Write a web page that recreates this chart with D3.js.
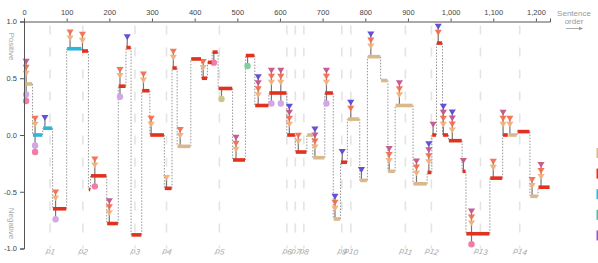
<!DOCTYPE html>
<html>
<head>
<meta charset="utf-8">
<script src="https://cdn.jsdelivr.net/npm/d3@7"></script>
<style>
body { margin: 0; background: #fff; }
svg { display: block; font-family: "Liberation Sans", Arial, sans-serif; }
</style>
</head>
<body>
<svg id="chart" width="598" height="263"></svg>
<script>
// segments: start sentence, sentiment value, type (end = next start)
var segStart = [0, 20, 44, 67, 100, 135, 151, 156, 194, 221, 239, 251, 276, 295, 329, 347, 359, 391, 416, 430,
    441, 455, 489, 519, 541, 574, 616, 636, 663, 677, 705, 725, 742, 758, 787, 805, 836, 853, 870, 912,
    945, 956, 967, 981, 995, 1027, 1036, 1092, 1122, 1135, 1156, 1186, 1205];
var lastSentence = 1233;
var segValue = [0.45, 0.0, 0.06, -0.65, 0.76, 0.74, -0.48, -0.36, -0.78, 0.43, 0.77, -0.88, 0.39, 0.0, -0.47, 0.59, -0.10, 0.67, 0.50, 0.64,
    0.73, 0.41, -0.22, 0.70, 0.26, 0.37, 0.0, -0.15, 0.0, -0.20, 0.37, -0.74, -0.24, 0.14, -0.40, 0.69, 0.48, -0.32, 0.26, -0.43,
    -0.33, 0.0, 0.81, 0.0, -0.05, -0.32, -0.87, -0.38, 0.0, 0.0, 0.03, -0.54, -0.46];
var segType = ["t", "c", "c", "r", "c", "r", "r", "r", "r", "r", "r", "r", "r", "r", "r", "r", "t", "r", "r", "r",
    "r", "r", "r", "r", "r", "r", "r", "r", "t", "t", "r", "t", "r", "t", "t", "t", "t", "t", "t", "t",
    "r", "r", "r", "r", "r", "r", "r", "r", "r", "t", "r", "t", "r"];

// events: sentence, triangles (stacked up), dots (stacked down)
var eventAt = [5, 26, 49, 74, 108, 137, 166, 200, 225, 242, 280, 298, 334, 350, 366, 420, 445, 463, 497, 524,
    549, 580, 602, 622, 643, 682, 709, 729, 746, 766, 791, 813, 856, 880, 920, 949, 959, 971, 983, 1004,
    1030, 1049, 1100, 1123, 1139, 1191, 1212];
var eventTri = ["tom", "to", "b", "to", "to", "to", "to", "tom", "to", "b", "to", "to", "t", "to", "to", "to", "", "", "tom", "",
    "tomb", "tom", "tom", "tomb", "to", "tomb", "tom", "tob", "b", "ob", "b", "tob", "tom", "tom", "tom", "tomb", "m", "ob", "tomb", "tomb",
    "m", "tom", "to", "tom", "to", "to", "tom"];
var eventDot = ["lp", "lp", "", "l", "", "", "p", "", "l", "", "", "", "", "", "", "", "p", "v", "", "g",
    "", "l", "l", "", "", "", "l", "", "", "", "", "", "", "", "", "", "", "", "", "",
    "", "p", "", "", "", "", ""];

var paraAt = [61, 138, 260, 334, 458, 616, 636, 656, 745, 766, 894, 955, 1070, 1162];
var paraLabel = ["p1", "p2", "p3", "p4", "p5", "p6", "p7", "p8", "p9", "p10", "p11", "p12", "p13", "p14"];

var xTicks = [0, 100, 200, 300, 400, 500, 600, 700, 800, 900, 1000, 1100, 1200];
var yTicks = [-1, -0.5, 0, 0.5, 1];

var legendKeys = ["t", "r", "c", "g", "u"];

var segColor = {t: "#d9b98b", r: "#e2321f", c: "#2db6da", g: "#55b9a0", u: "#8c5cc4"};
var triColor = {t: "#f1b27f", o: "#f46f4d", m: "#c2558c", b: "#5a49d4"};
var dotColor = {l: "#d3a6e6", p: "#f47aa7", v: "#c9c98e", g: "#80cf9d"};

var svg = d3.select("#chart");

var x = d3.scaleLinear().domain([0, lastSentence]).range([24, 550]);
var y = d3.scaleLinear().domain([-1, 1]).range([248.5, 21.5]);

var segs = segStart.map(function (s, i) {
    return {start: s, end: i < segStart.length - 1 ? segStart[i + 1] : lastSentence, value: segValue[i], type: segType[i]};
});

function segFor(s) {
    return segs.filter(function (d) { return s >= d.start && s < d.end; })[0];
}

// paragraph lines
svg.append("g").selectAll("line").data(paraAt).join("line")
    .attr("x1", function (d) { return x(d); }).attr("x2", function (d) { return x(d); })
    .attr("y1", y(1) + 4).attr("y2", y(-1))
    .attr("stroke", "#e4e4e4").attr("stroke-width", 1.6)
    .attr("stroke-dasharray", "9,13");

svg.append("g").selectAll("text").data(paraAt).join("text")
    .attr("transform", function (d) { return "translate(" + x(d) + ",254) rotate(12)"; })
    .attr("text-anchor", "middle")
    .attr("font-size", 8).attr("font-style", "italic")
    .attr("fill", "#aaa")
    .text(function (d, i) { return paraLabel[i]; });

// connectors between consecutive segments
var conn = [];
for (var i = 1; i < segs.length; i++) {
    conn.push({s: segs[i].start, a: segs[i - 1].value, b: segs[i].value});
}
svg.append("g").selectAll("line").data(conn).join("line")
    .attr("x1", function (d) { return x(d.s); }).attr("x2", function (d) { return x(d.s); })
    .attr("y1", function (d) { return y(d.a); }).attr("y2", function (d) { return y(d.b); })
    .attr("stroke", "#8a8a8a").attr("stroke-width", 0.9)
    .attr("stroke-dasharray", "1.5,1.5");

// events
var events = eventAt.map(function (s, i) {
    return {s: s, v: segFor(s).value, tri: eventTri[i].split(""), dot: eventDot[i].split("")};
});

var triGap = 6, dotGap = 6.5, first = 10.5;

var ev = svg.append("g").selectAll("g").data(events).join("g")
    .attr("transform", function (d) { return "translate(" + x(d.s) + "," + y(d.v) + ")"; });

ev.append("line")
    .attr("x1", 0).attr("x2", 0)
    .attr("y1", function (d) { return d.tri.length ? -(first + (d.tri.length - 1) * triGap) : 0; })
    .attr("y2", function (d) { return d.dot.length ? first + (d.dot.length - 1) * dotGap : 0; })
    .attr("stroke", "#777").attr("stroke-width", 1.2);

// bars
svg.append("g").selectAll("rect").data(segs).join("rect")
    .attr("x", function (d) { return x(d.start) + 0.4; })
    .attr("width", function (d) { return Math.max(1, x(d.end) - x(d.start) - 0.8); })
    .attr("y", function (d) { return y(d.value) - 1.8; })
    .attr("height", 3.6)
    .attr("fill", function (d) { return segColor[d.type]; });

ev.selectAll("path").data(function (d) { return d.tri; }).join("path")
    .attr("d", function (c, k) {
        var cy = -(first + k * triGap);
        return "M-3.6," + (cy - 2.8) + "L3.6," + (cy - 2.8) + "L0," + (cy + 3) + "Z";
    })
    .attr("fill", function (c) { return triColor[c]; })
    .attr("opacity", 0.95);

ev.selectAll("circle").data(function (d) { return d.dot; }).join("circle")
    .attr("cx", 0)
    .attr("cy", function (c, k) { return first + k * dotGap; })
    .attr("r", 3.2)
    .attr("fill", function (c) { return dotColor[c]; });

// axes
var xAxis = svg.append("g").attr("transform", "translate(0," + y(1) + ")")
    .call(d3.axisTop(x).tickValues(xTicks).tickFormat(d3.format(",")).tickSize(3).tickSizeOuter(3));
var yAxis = svg.append("g").attr("transform", "translate(" + x(0) + ",0)")
    .call(d3.axisLeft(y).tickValues(yTicks).tickFormat(function (d) { return d.toFixed(1); }).tickSize(4).tickSizeOuter(4));

[xAxis, yAxis].forEach(function (g) {
    g.selectAll("path, line").attr("stroke", "#555");
    g.selectAll("text").attr("fill", "#444").attr("font-size", 7.5).attr("font-family", "Liberation Sans, Arial, sans-serif");
});
xAxis.selectAll("text").attr("dy", "-0.1em");

svg.append("text")
    .attr("transform", "translate(9," + y(0.78) + ") rotate(90)")
    .attr("text-anchor", "middle").attr("font-size", 8).attr("fill", "#aaa")
    .text("Positive");
svg.append("text")
    .attr("transform", "translate(9," + y(-0.78) + ") rotate(90)")
    .attr("text-anchor", "middle").attr("font-size", 8).attr("fill", "#aaa")
    .text("Negative");

// sentence order note
svg.append("text").attr("x", 574).attr("y", 16).attr("text-anchor", "middle")
    .attr("font-size", 8).attr("fill", "#999").text("Sentence");
svg.append("text").attr("x", 574).attr("y", 24).attr("text-anchor", "middle")
    .attr("font-size", 8).attr("fill", "#999").text("order");
svg.append("line").attr("x1", 566).attr("x2", 582).attr("y1", 28.5).attr("y2", 28.5)
    .attr("stroke", "#999").attr("stroke-width", 0.8);
svg.append("path").attr("d", "M579,26.8L583,28.5L579,30.2Z").attr("fill", "#999");

// legend swatches (names fall outside the frame)
svg.append("g").selectAll("rect").data(legendKeys).join("rect")
    .attr("x", 596.5)
    .attr("y", function (d, i) { return 148 + i * 20.6; })
    .attr("width", 10).attr("height", 10)
    .attr("fill", function (d) { return segColor[d]; });
</script>
</body>
</html>
